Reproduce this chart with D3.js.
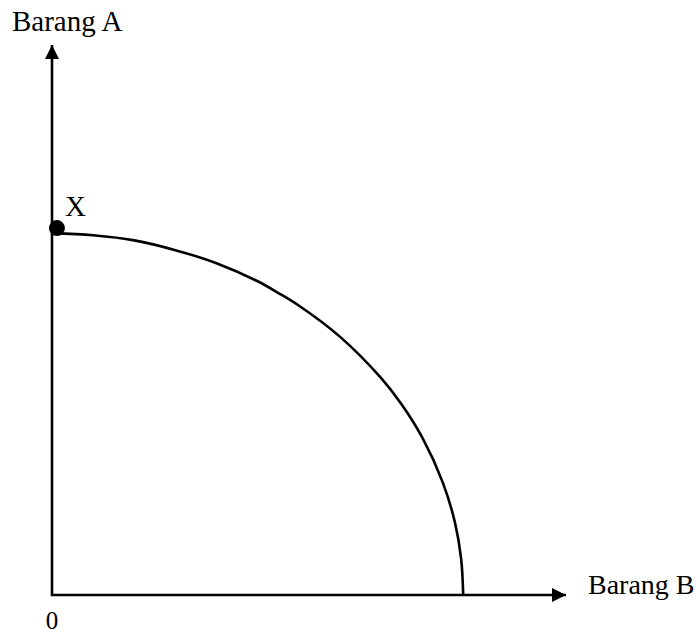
<!DOCTYPE html>
<meta charset="utf-8">
<title>Kurva Kemungkinan Produksi</title>
<style>

body {
  margin: 0;
  background-color: white;
}

text {
  font-family: "Liberation Serif", "Times New Roman", serif;
  fill: black;
}

.axis-line {
  stroke: black;
  stroke-width: 2.6px;
}

.ppf {
  fill: none;
  stroke: black;
  stroke-width: 2.6px;
}

</style>
<body>
<script src="https://cdn.jsdelivr.net/npm/d3@7"></script>
<script>

// output of Barang B (x) and Barang A (y) along the curve
var barangB = [0, 10, 20, 30, 40, 50, 55, 60, 70, 80, 85, 90, 95, 98, 99.5, 100];
var barangA = [100, 99.4, 98, 95.3, 91.7, 86.7, 83.5, 80, 71.4, 60, 52.7, 43.6, 31.2, 20, 10, 0];

var axisLabels = ["Barang A", "Barang B"];
var originLabel = "0";
var pointLabel = "X";
var pointX = [1.2, 101.4];   // position of point X (Barang B, Barang A)

var width = 700,
    height = 634;

var x = d3.scaleLinear().domain([0, 125]).range([52, 566]),
    y = d3.scaleLinear().domain([0, 152]).range([595, 45]);

var svg = d3.select("body").append("svg")
    .attr("width", width)
    .attr("height", height);

svg.append("defs").append("marker")
    .attr("id", "arrow")
    .attr("viewBox", "0 0 14 14")
    .attr("refX", 14)
    .attr("refY", 7)
    .attr("markerWidth", 14)
    .attr("markerHeight", 14)
    .attr("markerUnits", "userSpaceOnUse")
    .attr("orient", "auto")
  .append("path")
    .attr("d", "M0,0L14,7L0,14Z")
    .attr("fill", "black");

// vertical axis (Barang A)
svg.append("line")
    .attr("class", "axis-line")
    .attr("x1", x(0)).attr("y1", y(0) + 1)
    .attr("x2", x(0)).attr("y2", y(152))
    .attr("marker-end", "url(#arrow)");

// horizontal axis (Barang B)
svg.append("line")
    .attr("class", "axis-line")
    .attr("x1", x(0) - 1).attr("y1", y(0))
    .attr("x2", x(125)).attr("y2", y(0))
    .attr("marker-end", "url(#arrow)");

var line = d3.line()
    .x(function(d) { return x(d[0]); })
    .y(function(d) { return y(d[1]); })
    .curve(d3.curveCatmullRom);

svg.append("path")
    .attr("class", "ppf")
    .attr("d", line(d3.zip(barangB, barangA)));

svg.append("circle")
    .attr("cx", x(pointX[0]))
    .attr("cy", y(pointX[1]))
    .attr("r", 8)
    .attr("fill", "black");

svg.append("text")
    .attr("x", 12)
    .attr("y", 31)
    .style("font-size", "29px")
    .text(axisLabels[0]);

svg.append("text")
    .attr("x", 588)
    .attr("y", 594)
    .style("font-size", "28px")
    .text(axisLabels[1]);

svg.append("text")
    .attr("x", x(0))
    .attr("y", 629)
    .attr("text-anchor", "middle")
    .style("font-size", "25px")
    .text(originLabel);

svg.append("text")
    .attr("x", 65)
    .attr("y", 216)
    .style("font-size", "29px")
    .text(pointLabel);

</script>
